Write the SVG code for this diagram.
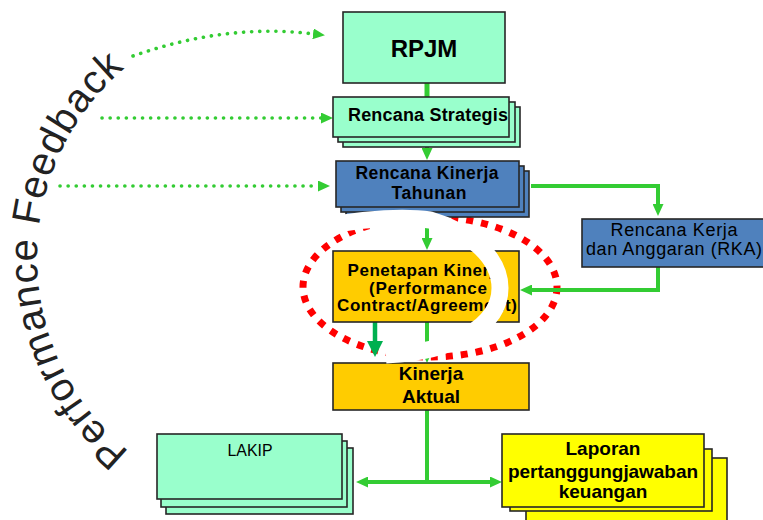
<svg xmlns="http://www.w3.org/2000/svg" width="763" height="520" viewBox="0 0 763 520">
<style>
.box{stroke:#262626;stroke-width:1.6}
.mint{fill:#99FFCC}
.blue{fill:#4F81BD}
.gold{fill:#FFCC00}
.yellow{fill:#FFFF00}
.t{font-family:"Liberation Sans",Arial,sans-serif;fill:#000;text-anchor:middle}
.b{font-weight:bold}
.conn{stroke:#33CC33;stroke-width:4;fill:none}
.dot{stroke:#33CC33;stroke-width:3.6;fill:none;stroke-dasharray:0.1 8;stroke-linecap:round}
.fb{font-family:"Liberation Sans",Arial,sans-serif;font-size:40px;fill:#222;letter-spacing:1.1px}
</style>
<defs>
<marker id="ah" viewBox="0 0 12 11" refX="1" refY="5.5" markerWidth="12" markerHeight="11" markerUnits="userSpaceOnUse" orient="auto-start-reverse"><path d="M0,0 L12,5.5 L0,11 z" fill="#33CC33"/></marker>
<marker id="ahd" viewBox="0 0 16 16" refX="1" refY="8" markerWidth="16" markerHeight="16" markerUnits="userSpaceOnUse" orient="auto"><path d="M0,0 L16,8 L0,16 z" fill="#00B050"/></marker>
<path id="fbArc" d="M129.3,451.5 A249,249 0 0 1 132.7,61.8" fill="none"/>
</defs>

<g id="feedback-label">
<text class="fb"><textPath href="#fbArc">Performance Feedback</textPath></text>
</g>

<ellipse id="focus-ring" cx="430" cy="287" rx="127" ry="70" fill="none" stroke="#FF0000" stroke-width="7" stroke-dasharray="7 8"/>

<g id="connectors">
<path class="dot" d="M133,56 C190,36 250,26 314,34" marker-end="url(#ah)"/>
<path class="dot" d="M102,118 H322" marker-end="url(#ah)"/>
<path class="dot" d="M60,186 H319" marker-end="url(#ah)"/>
<path class="conn" style="stroke-width:5" d="M427,83 V97"/>
<path class="conn" d="M427,137 V149" marker-end="url(#ah)"/>
<path class="conn" d="M427,207 V239" marker-end="url(#ah)"/>
<path class="conn" d="M427,322 V352" marker-end="url(#ah)"/>
<path class="conn" d="M531,186 H658 V205" marker-end="url(#ah)"/>
<path class="conn" d="M658,267 V290 H531" marker-end="url(#ah)"/>
<path class="conn" d="M427,410 V482"/>
<path class="conn" d="M367,482 H491" marker-start="url(#ah)" marker-end="url(#ah)"/>
<path d="M375,322 V342" stroke="#00B050" stroke-width="4.5" fill="none" marker-end="url(#ahd)"/>
</g>

<g id="rpjm">
<rect class="box mint" x="343" y="12" width="162" height="71"/>
<text class="t b" x="424" y="57" font-size="24">RPJM</text>
</g>

<g id="rencana-strategis">
<rect class="box mint" x="343" y="107" width="177" height="40"/>
<rect class="box mint" x="338" y="102" width="177" height="40"/>
<rect class="box mint" x="333" y="97" width="176" height="40"/>
<text class="t b" x="428" y="121" font-size="18" textLength="160">Rencana Strategis</text>
</g>

<g id="rencana-kinerja-tahunan">
<rect class="box blue" x="346" y="171" width="183" height="46"/>
<rect class="box blue" x="341" y="166" width="183" height="46"/>
<rect class="box blue" x="336" y="161" width="183" height="46"/>
<text class="t b" x="427" y="179" font-size="17.5" textLength="143">Rencana Kinerja</text>
<text class="t b" x="429" y="199" font-size="17.5" textLength="75">Tahunan</text>
</g>

<g id="rka">
<rect class="box blue" x="582" y="219" width="184" height="48"/>
<text class="t" x="674" y="236" font-size="18" textLength="127">Rencana Kerja</text>
<text class="t" x="674" y="255" font-size="18" textLength="176">dan Anggaran (RKA)</text>
</g>

<g id="penetapan-kinerja">
<rect class="box gold" x="333" y="251" width="186" height="71"/>
<text class="t b" x="426" y="276" font-size="17" textLength="157">Penetapan Kinerja</text>
<text class="t b" x="428" y="293.5" font-size="17" textLength="118">(Performance</text>
<text class="t b" x="427" y="311" font-size="17" textLength="180">Contract/Agreement)</text>
</g>

<g id="kinerja-aktual">
<rect class="box gold" x="333" y="363" width="196" height="47"/>
<text class="t b" x="431" y="380" font-size="19">Kinerja</text>
<text class="t b" x="431" y="403" font-size="19">Aktual</text>
</g>

<g id="lakip">
<rect class="box mint" x="166" y="448" width="187" height="66"/>
<rect class="box mint" x="161" y="441" width="186" height="66"/>
<rect class="box mint" x="157" y="434" width="185" height="65"/>
<text class="t" x="250" y="456" font-size="17" textLength="45" lengthAdjust="spacingAndGlyphs">LAKIP</text>
</g>

<g id="laporan">
<rect class="box yellow" x="526" y="458" width="201" height="70"/>
<rect class="box yellow" x="510" y="449" width="202" height="62"/>
<rect class="box yellow" x="502" y="434" width="202" height="73"/>
<text class="t b" x="603" y="455" font-size="19">Laporan</text>
<text class="t b" x="603" y="478" font-size="19" textLength="190">pertanggungjawaban</text>
<text class="t b" x="603" y="498" font-size="19">keuangan</text>
</g>

<path id="white-arc" d="M336,224 C365,219 405,216 430,220 C465,230 500,255 500,288 C500,325 455,352 386,355" fill="none" stroke="#FFFFFF" stroke-width="17"/>
</svg>
